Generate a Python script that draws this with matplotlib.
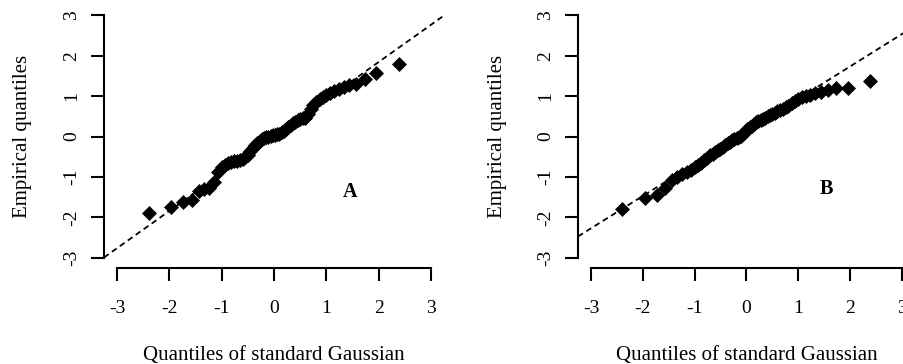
import matplotlib.pyplot as plt

plt.rcParams['font.family'] = ['Liberation Serif', 'DejaVu Serif']

# theoretical quantiles of the standard Gaussian (60 points)
gauss_q = [-2.394, -1.960, -1.732, -1.569, -1.440, -1.331, -1.235, -1.150, -1.073, -1.001,
           -0.935, -0.872, -0.812, -0.755, -0.701, -0.649, -0.598, -0.549, -0.501, -0.454,
           -0.408, -0.363, -0.319, -0.275, -0.232, -0.189, -0.147, -0.105, -0.063, -0.021,
           0.021, 0.063, 0.105, 0.147, 0.189, 0.232, 0.275, 0.319, 0.363, 0.408,
           0.454, 0.501, 0.549, 0.598, 0.649, 0.701, 0.755, 0.812, 0.872, 0.935,
           1.001, 1.073, 1.150, 1.235, 1.331, 1.440, 1.569, 1.732, 1.960, 2.394]

# empirical quantiles, sample A
emp_a = [-1.89, -1.73, -1.62, -1.58, -1.35, -1.30, -1.27, -1.13, -0.88, -0.75,
         -0.70, -0.65, -0.62, -0.61, -0.60, -0.58, -0.55, -0.50, -0.45, -0.35,
         -0.28, -0.22, -0.16, -0.10, -0.07, -0.04, -0.02, 0.00, 0.02, 0.03,
         0.04, 0.05, 0.07, 0.10, 0.14, 0.19, 0.24, 0.28, 0.33, 0.37,
         0.40, 0.43, 0.45, 0.47, 0.55, 0.68, 0.78, 0.86, 0.93, 0.98,
         1.02, 1.07, 1.12, 1.17, 1.22, 1.27, 1.31, 1.42, 1.58, 1.80]

# empirical quantiles, sample B
emp_b = [-1.80, -1.53, -1.44, -1.27, -1.08, -1.00, -0.93, -0.88, -0.82, -0.75,
         -0.70, -0.65, -0.58, -0.52, -0.46, -0.42, -0.38, -0.34, -0.30, -0.26,
         -0.22, -0.17, -0.13, -0.09, -0.06, -0.03, 0.00, 0.02, 0.06, 0.12,
         0.18, 0.23, 0.27, 0.31, 0.35, 0.38, 0.41, 0.44, 0.47, 0.50,
         0.53, 0.56, 0.59, 0.62, 0.65, 0.68, 0.72, 0.76, 0.82, 0.88,
         0.93, 0.97, 1.00, 1.03, 1.07, 1.11, 1.15, 1.19, 1.20, 1.37]

# reference lines (intercept, slope)
line_a = (0.0, 0.92)
line_b = (0.13, 0.80)

ticks = [-3, -2, -1, 0, 1, 2, 3]
tick_labels = ['-3', '-2', '-1', '0', '1', '2', '3']

fig = plt.figure(figsize=(9.04, 3.64), dpi=100)
ax_a = fig.add_axes([0.1150, 0.2637, 0.3761, 0.7225])
ax_b = fig.add_axes([0.6394, 0.2637, 0.3725, 0.7225])


def qq_panel(ax, emp, line, tag, tag_xy):
    ax.plot(gauss_q, emp, linestyle='none', marker='D', ms=6.8,
            mfc='black', mec='black', mew=0.5, zorder=3)
    b0, b1 = line
    ax.axline((0, b0), slope=b1, color='black', lw=1.3,
              dashes=(3.2, 2.2), zorder=2)
    ax.set_xlim(-3.25, 3.25)
    ax.set_ylim(-3.25, 3.25)
    for side in ['top', 'right']:
        ax.spines[side].set_visible(False)
    ax.spines['left'].set_bounds(-3, 3)
    ax.spines['bottom'].set_bounds(-3, 3)
    ax.spines['left'].set_linewidth(1.5)
    ax.spines['bottom'].set_linewidth(1.5)
    ax.set_xticks(ticks)
    ax.set_xticklabels(tick_labels)
    ax.set_yticks(ticks)
    ax.set_yticklabels(tick_labels, rotation=90, va='center')
    ax.tick_params(axis='both', length=9.2, width=1.5, labelsize=14)
    ax.tick_params(axis='x', pad=14)
    ax.tick_params(axis='y', pad=8)
    ax.text(0.5, -0.331, 'Quantiles of standard Gaussian', transform=ax.transAxes,
            ha='center', va='center', fontsize=15)
    ax.text(-0.240, 0.5, 'Empirical quantiles', transform=ax.transAxes,
            ha='center', va='center', rotation=90, fontsize=15)
    ax.text(tag_xy[0], tag_xy[1], tag, ha='center', va='center',
            fontsize=14.5, fontweight='bold')


qq_panel(ax_a, emp_a, line_a, 'A', (1.45, -1.38))
qq_panel(ax_b, emp_b, line_b, 'B', (1.54, -1.29))

fig.savefig('out.png', dpi=100)
